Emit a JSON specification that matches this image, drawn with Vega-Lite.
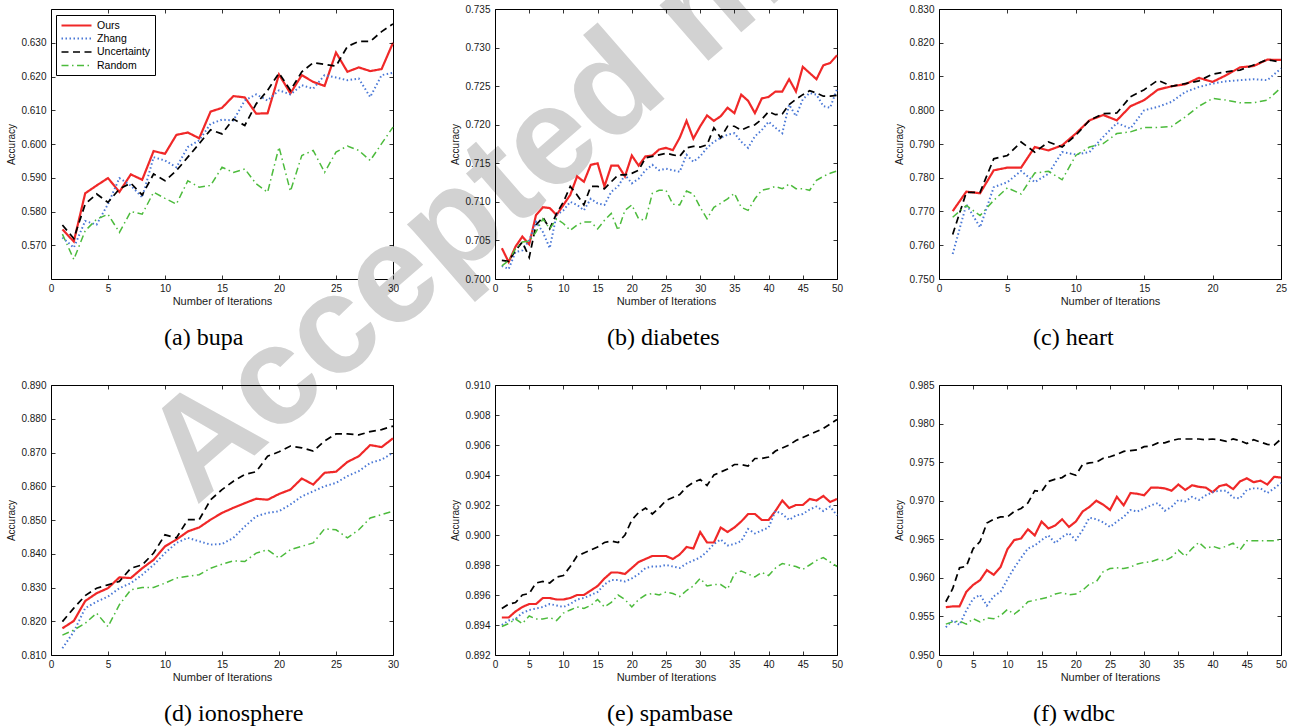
{
"$schema": "https://vega.github.io/schema/vega-lite/v6.json",
"background": "white",
"padding": {"left": 6, "top": -100, "right": 0, "bottom": 0},
"datasets": {
"a": [
{"x":1,"Ours":0.5747,"Zhang":0.5723,"Uncertainty":0.5760,"Random":0.5733},
{"x":2,"Ours":0.5711,"Zhang":0.5693,"Uncertainty":0.5720,"Random":0.5658},
{"x":3,"Ours":0.5854,"Zhang":0.5772,"Uncertainty":0.5822,"Random":0.5743},
{"x":4,"Ours":0.5877,"Zhang":0.5761,"Uncertainty":0.5852,"Random":0.5777},
{"x":5,"Ours":0.5899,"Zhang":0.5822,"Uncertainty":0.5827,"Random":0.5792},
{"x":6,"Ours":0.5858,"Zhang":0.5899,"Uncertainty":0.5867,"Random":0.5738},
{"x":7,"Ours":0.5910,"Zhang":0.5877,"Uncertainty":0.5884,"Random":0.5800},
{"x":8,"Ours":0.5894,"Zhang":0.5842,"Uncertainty":0.5849,"Random":0.5792},
{"x":9,"Ours":0.5979,"Zhang":0.5961,"Uncertainty":0.5911,"Random":0.5857},
{"x":10,"Ours":0.5971,"Zhang":0.5951,"Uncertainty":0.5891,"Random":0.5839},
{"x":11,"Ours":0.6027,"Zhang":0.5931,"Uncertainty":0.5921,"Random":0.5822},
{"x":12,"Ours":0.6034,"Zhang":0.5991,"Uncertainty":0.5961,"Random":0.5891},
{"x":13,"Ours":0.6017,"Zhang":0.6011,"Uncertainty":0.6001,"Random":0.5872},
{"x":14,"Ours":0.6096,"Zhang":0.6060,"Uncertainty":0.6042,"Random":0.5877},
{"x":15,"Ours":0.6107,"Zhang":0.6072,"Uncertainty":0.6030,"Random":0.5931},
{"x":16,"Ours":0.6142,"Zhang":0.6070,"Uncertainty":0.6074,"Random":0.5916},
{"x":17,"Ours":0.6138,"Zhang":0.6129,"Uncertainty":0.6055,"Random":0.5926},
{"x":18,"Ours":0.6090,"Zhang":0.6147,"Uncertainty":0.6119,"Random":0.5882},
{"x":19,"Ours":0.6091,"Zhang":0.6129,"Uncertainty":0.6159,"Random":0.5857},
{"x":20,"Ours":0.6206,"Zhang":0.6159,"Uncertainty":0.6210,"Random":0.5991},
{"x":21,"Ours":0.6150,"Zhang":0.6147,"Uncertainty":0.6159,"Random":0.5860},
{"x":22,"Ours":0.6204,"Zhang":0.6174,"Uncertainty":0.6214,"Random":0.5966},
{"x":23,"Ours":0.6184,"Zhang":0.6164,"Uncertainty":0.6241,"Random":0.5981},
{"x":24,"Ours":0.6172,"Zhang":0.6204,"Uncertainty":0.6236,"Random":0.5916},
{"x":25,"Ours":0.6271,"Zhang":0.6197,"Uncertainty":0.6231,"Random":0.5976},
{"x":26,"Ours":0.6214,"Zhang":0.6189,"Uncertainty":0.6289,"Random":0.5994},
{"x":27,"Ours":0.6227,"Zhang":0.6194,"Uncertainty":0.6304,"Random":0.5981},
{"x":28,"Ours":0.6216,"Zhang":0.6139,"Uncertainty":0.6304,"Random":0.5951},
{"x":29,"Ours":0.6222,"Zhang":0.6204,"Uncertainty":0.6333,"Random":0.6001},
{"x":30,"Ours":0.6300,"Zhang":0.6211,"Uncertainty":0.6356,"Random":0.6050}
],
"b": [
{"x":1,"Ours":0.7040,"Zhang":0.7017,"Uncertainty":0.7024,"Random":0.7017},
{"x":2,"Ours":0.7022,"Zhang":0.7013,"Uncertainty":0.7023,"Random":0.7024},
{"x":3,"Ours":0.7042,"Zhang":0.7035,"Uncertainty":0.7037,"Random":0.7039},
{"x":4,"Ours":0.7055,"Zhang":0.7037,"Uncertainty":0.7048,"Random":0.7048},
{"x":5,"Ours":0.7045,"Zhang":0.7050,"Uncertainty":0.7028,"Random":0.7049},
{"x":6,"Ours":0.7083,"Zhang":0.7074,"Uncertainty":0.7070,"Random":0.7061},
{"x":7,"Ours":0.7093,"Zhang":0.7061,"Uncertainty":0.7080,"Random":0.7078},
{"x":8,"Ours":0.7092,"Zhang":0.7040,"Uncertainty":0.7065,"Random":0.7065},
{"x":9,"Ours":0.7083,"Zhang":0.7083,"Uncertainty":0.7085,"Random":0.7078},
{"x":10,"Ours":0.7096,"Zhang":0.7089,"Uncertainty":0.7100,"Random":0.7072},
{"x":11,"Ours":0.7109,"Zhang":0.7100,"Uncertainty":0.7120,"Random":0.7063},
{"x":12,"Ours":0.7133,"Zhang":0.7096,"Uncertainty":0.7109,"Random":0.7070},
{"x":13,"Ours":0.7126,"Zhang":0.7089,"Uncertainty":0.7096,"Random":0.7074},
{"x":14,"Ours":0.7148,"Zhang":0.7104,"Uncertainty":0.7120,"Random":0.7074},
{"x":15,"Ours":0.7150,"Zhang":0.7098,"Uncertainty":0.7120,"Random":0.7065},
{"x":16,"Ours":0.7120,"Zhang":0.7096,"Uncertainty":0.7117,"Random":0.7076},
{"x":17,"Ours":0.7147,"Zhang":0.7113,"Uncertainty":0.7126,"Random":0.7085},
{"x":18,"Ours":0.7147,"Zhang":0.7120,"Uncertainty":0.7135,"Random":0.7063},
{"x":19,"Ours":0.7133,"Zhang":0.7135,"Uncertainty":0.7135,"Random":0.7089},
{"x":20,"Ours":0.7160,"Zhang":0.7124,"Uncertainty":0.7137,"Random":0.7096},
{"x":21,"Ours":0.7147,"Zhang":0.7130,"Uncertainty":0.7141,"Random":0.7078},
{"x":22,"Ours":0.7159,"Zhang":0.7141,"Uncertainty":0.7157,"Random":0.7076},
{"x":23,"Ours":0.7160,"Zhang":0.7148,"Uncertainty":0.7159,"Random":0.7111},
{"x":24,"Ours":0.7168,"Zhang":0.7141,"Uncertainty":0.7161,"Random":0.7115},
{"x":25,"Ours":0.7170,"Zhang":0.7143,"Uncertainty":0.7163,"Random":0.7115},
{"x":26,"Ours":0.7167,"Zhang":0.7141,"Uncertainty":0.7161,"Random":0.7097},
{"x":27,"Ours":0.7183,"Zhang":0.7139,"Uncertainty":0.7159,"Random":0.7096},
{"x":28,"Ours":0.7205,"Zhang":0.7161,"Uncertainty":0.7170,"Random":0.7114},
{"x":29,"Ours":0.7182,"Zhang":0.7152,"Uncertainty":0.7172,"Random":0.7110},
{"x":30,"Ours":0.7198,"Zhang":0.7159,"Uncertainty":0.7171,"Random":0.7093},
{"x":31,"Ours":0.7212,"Zhang":0.7170,"Uncertainty":0.7174,"Random":0.7078},
{"x":32,"Ours":0.7205,"Zhang":0.7178,"Uncertainty":0.7196,"Random":0.7093},
{"x":33,"Ours":0.7211,"Zhang":0.7183,"Uncertainty":0.7183,"Random":0.7098},
{"x":34,"Ours":0.7222,"Zhang":0.7187,"Uncertainty":0.7198,"Random":0.7104},
{"x":35,"Ours":0.7215,"Zhang":0.7189,"Uncertainty":0.7198,"Random":0.7111},
{"x":36,"Ours":0.7239,"Zhang":0.7178,"Uncertainty":0.7193,"Random":0.7093},
{"x":37,"Ours":0.7231,"Zhang":0.7170,"Uncertainty":0.7197,"Random":0.7089},
{"x":38,"Ours":0.7215,"Zhang":0.7185,"Uncertainty":0.7200,"Random":0.7104},
{"x":39,"Ours":0.7234,"Zhang":0.7193,"Uncertainty":0.7207,"Random":0.7115},
{"x":40,"Ours":0.7236,"Zhang":0.7204,"Uncertainty":0.7217,"Random":0.7117},
{"x":41,"Ours":0.7243,"Zhang":0.7196,"Uncertainty":0.7213,"Random":0.7120},
{"x":42,"Ours":0.7243,"Zhang":0.7189,"Uncertainty":0.7214,"Random":0.7117},
{"x":43,"Ours":0.7259,"Zhang":0.7226,"Uncertainty":0.7226,"Random":0.7123},
{"x":44,"Ours":0.7243,"Zhang":0.7211,"Uncertainty":0.7233,"Random":0.7117},
{"x":45,"Ours":0.7275,"Zhang":0.7233,"Uncertainty":0.7239,"Random":0.7117},
{"x":46,"Ours":0.7267,"Zhang":0.7241,"Uncertainty":0.7244,"Random":0.7115},
{"x":47,"Ours":0.7259,"Zhang":0.7239,"Uncertainty":0.7241,"Random":0.7128},
{"x":48,"Ours":0.7277,"Zhang":0.7224,"Uncertainty":0.7237,"Random":0.7133},
{"x":49,"Ours":0.7280,"Zhang":0.7222,"Uncertainty":0.7237,"Random":0.7137},
{"x":50,"Ours":0.7290,"Zhang":0.7246,"Uncertainty":0.7238,"Random":0.7140}
],
"c": [
{"x":1,"Ours":0.7701,"Zhang":0.7574,"Uncertainty":0.7632,"Random":0.7683},
{"x":2,"Ours":0.7759,"Zhang":0.7721,"Uncertainty":0.7757,"Random":0.7718},
{"x":3,"Ours":0.7754,"Zhang":0.7653,"Uncertainty":0.7757,"Random":0.7688},
{"x":4,"Ours":0.7822,"Zhang":0.7772,"Uncertainty":0.7856,"Random":0.7733},
{"x":5,"Ours":0.7830,"Zhang":0.7787,"Uncertainty":0.7866,"Random":0.7770},
{"x":6,"Ours":0.7830,"Zhang":0.7820,"Uncertainty":0.7906,"Random":0.7752},
{"x":7,"Ours":0.7891,"Zhang":0.7787,"Uncertainty":0.7876,"Random":0.7814},
{"x":8,"Ours":0.7881,"Zhang":0.7812,"Uncertainty":0.7906,"Random":0.7819},
{"x":9,"Ours":0.7896,"Zhang":0.7876,"Uncertainty":0.7891,"Random":0.7794},
{"x":10,"Ours":0.7931,"Zhang":0.7869,"Uncertainty":0.7926,"Random":0.7866},
{"x":11,"Ours":0.7970,"Zhang":0.7876,"Uncertainty":0.7970,"Random":0.7891},
{"x":12,"Ours":0.7986,"Zhang":0.7921,"Uncertainty":0.7990,"Random":0.7901},
{"x":13,"Ours":0.7970,"Zhang":0.7962,"Uncertainty":0.7992,"Random":0.7931},
{"x":14,"Ours":0.8012,"Zhang":0.7946,"Uncertainty":0.8040,"Random":0.7936},
{"x":15,"Ours":0.8030,"Zhang":0.8000,"Uncertainty":0.8061,"Random":0.7949},
{"x":16,"Ours":0.8061,"Zhang":0.8010,"Uncertainty":0.8089,"Random":0.7949},
{"x":17,"Ours":0.8071,"Zhang":0.8025,"Uncertainty":0.8071,"Random":0.7952},
{"x":18,"Ours":0.8077,"Zhang":0.8054,"Uncertainty":0.8079,"Random":0.7980},
{"x":19,"Ours":0.8096,"Zhang":0.8069,"Uncertainty":0.8087,"Random":0.8012},
{"x":20,"Ours":0.8084,"Zhang":0.8079,"Uncertainty":0.8107,"Random":0.8035},
{"x":21,"Ours":0.8104,"Zhang":0.8086,"Uncertainty":0.8114,"Random":0.8030},
{"x":22,"Ours":0.8127,"Zhang":0.8089,"Uncertainty":0.8119,"Random":0.8022},
{"x":23,"Ours":0.8131,"Zhang":0.8092,"Uncertainty":0.8134,"Random":0.8022},
{"x":24,"Ours":0.8150,"Zhang":0.8089,"Uncertainty":0.8150,"Random":0.8030},
{"x":25,"Ours":0.8149,"Zhang":0.8124,"Uncertainty":0.8142,"Random":0.8067}
],
"d": [
{"x":1,"Ours":0.8179,"Zhang":0.8120,"Uncertainty":0.8199,"Random":0.8159},
{"x":2,"Ours":0.8201,"Zhang":0.8169,"Uncertainty":0.8239,"Random":0.8174},
{"x":3,"Ours":0.8260,"Zhang":0.8239,"Uncertainty":0.8276,"Random":0.8194},
{"x":4,"Ours":0.8283,"Zhang":0.8258,"Uncertainty":0.8298,"Random":0.8224},
{"x":5,"Ours":0.8298,"Zhang":0.8273,"Uncertainty":0.8308,"Random":0.8184},
{"x":6,"Ours":0.8330,"Zhang":0.8298,"Uncertainty":0.8318,"Random":0.8249},
{"x":7,"Ours":0.8328,"Zhang":0.8313,"Uncertainty":0.8357,"Random":0.8293},
{"x":8,"Ours":0.8357,"Zhang":0.8338,"Uncertainty":0.8367,"Random":0.8300},
{"x":9,"Ours":0.8382,"Zhang":0.8367,"Uncertainty":0.8402,"Random":0.8300},
{"x":10,"Ours":0.8422,"Zhang":0.8402,"Uncertainty":0.8456,"Random":0.8313},
{"x":11,"Ours":0.8442,"Zhang":0.8432,"Uncertainty":0.8447,"Random":0.8328},
{"x":12,"Ours":0.8466,"Zhang":0.8447,"Uncertainty":0.8501,"Random":0.8333},
{"x":13,"Ours":0.8478,"Zhang":0.8437,"Uncertainty":0.8501,"Random":0.8338},
{"x":14,"Ours":0.8501,"Zhang":0.8427,"Uncertainty":0.8560,"Random":0.8357},
{"x":15,"Ours":0.8521,"Zhang":0.8429,"Uncertainty":0.8590,"Random":0.8369},
{"x":16,"Ours":0.8536,"Zhang":0.8447,"Uncertainty":0.8615,"Random":0.8379},
{"x":17,"Ours":0.8550,"Zhang":0.8481,"Uncertainty":0.8635,"Random":0.8377},
{"x":18,"Ours":0.8563,"Zhang":0.8511,"Uncertainty":0.8643,"Random":0.8402},
{"x":19,"Ours":0.8560,"Zhang":0.8521,"Uncertainty":0.8689,"Random":0.8412},
{"x":20,"Ours":0.8577,"Zhang":0.8526,"Uncertainty":0.8702,"Random":0.8387},
{"x":21,"Ours":0.8590,"Zhang":0.8546,"Uncertainty":0.8719,"Random":0.8412},
{"x":22,"Ours":0.8623,"Zhang":0.8570,"Uncertainty":0.8714,"Random":0.8422},
{"x":23,"Ours":0.8605,"Zhang":0.8585,"Uncertainty":0.8704,"Random":0.8432},
{"x":24,"Ours":0.8640,"Zhang":0.8600,"Uncertainty":0.8734,"Random":0.8474},
{"x":25,"Ours":0.8643,"Zhang":0.8610,"Uncertainty":0.8755,"Random":0.8471},
{"x":26,"Ours":0.8672,"Zhang":0.8630,"Uncertainty":0.8755,"Random":0.8447},
{"x":27,"Ours":0.8689,"Zhang":0.8645,"Uncertainty":0.8752,"Random":0.8471},
{"x":28,"Ours":0.8722,"Zhang":0.8669,"Uncertainty":0.8762,"Random":0.8506},
{"x":29,"Ours":0.8716,"Zhang":0.8679,"Uncertainty":0.8768,"Random":0.8516},
{"x":30,"Ours":0.8742,"Zhang":0.8699,"Uncertainty":0.8778,"Random":0.8526}
],
"e": [
{"x":1,"Ours":0.8945,"Zhang":0.8940,"Uncertainty":0.8951,"Random":0.8939},
{"x":2,"Ours":0.8945,"Zhang":0.8943,"Uncertainty":0.8954,"Random":0.8941},
{"x":3,"Ours":0.8949,"Zhang":0.8944,"Uncertainty":0.8955,"Random":0.8944},
{"x":4,"Ours":0.8952,"Zhang":0.8948,"Uncertainty":0.8960,"Random":0.8941},
{"x":5,"Ours":0.8954,"Zhang":0.8950,"Uncertainty":0.8961,"Random":0.8946},
{"x":6,"Ours":0.8954,"Zhang":0.8951,"Uncertainty":0.8968,"Random":0.8944},
{"x":7,"Ours":0.8958,"Zhang":0.8952,"Uncertainty":0.8969,"Random":0.8944},
{"x":8,"Ours":0.8958,"Zhang":0.8954,"Uncertainty":0.8968,"Random":0.8945},
{"x":9,"Ours":0.8957,"Zhang":0.8953,"Uncertainty":0.8972,"Random":0.8943},
{"x":10,"Ours":0.8957,"Zhang":0.8952,"Uncertainty":0.8973,"Random":0.8948},
{"x":11,"Ours":0.8958,"Zhang":0.8954,"Uncertainty":0.8979,"Random":0.8950},
{"x":12,"Ours":0.8960,"Zhang":0.8957,"Uncertainty":0.8986,"Random":0.8952},
{"x":13,"Ours":0.8960,"Zhang":0.8958,"Uncertainty":0.8988,"Random":0.8951},
{"x":14,"Ours":0.8963,"Zhang":0.8960,"Uncertainty":0.8990,"Random":0.8953},
{"x":15,"Ours":0.8966,"Zhang":0.8962,"Uncertainty":0.8992,"Random":0.8957},
{"x":16,"Ours":0.8971,"Zhang":0.8967,"Uncertainty":0.8995,"Random":0.8952},
{"x":17,"Ours":0.8975,"Zhang":0.8970,"Uncertainty":0.8996,"Random":0.8955},
{"x":18,"Ours":0.8975,"Zhang":0.8970,"Uncertainty":0.8995,"Random":0.8960},
{"x":19,"Ours":0.8974,"Zhang":0.8969,"Uncertainty":0.9000,"Random":0.8957},
{"x":20,"Ours":0.8978,"Zhang":0.8971,"Uncertainty":0.9010,"Random":0.8952},
{"x":21,"Ours":0.8982,"Zhang":0.8974,"Uncertainty":0.9015,"Random":0.8957},
{"x":22,"Ours":0.8984,"Zhang":0.8978,"Uncertainty":0.9018,"Random":0.8960},
{"x":23,"Ours":0.8986,"Zhang":0.8979,"Uncertainty":0.9014,"Random":0.8961},
{"x":24,"Ours":0.8986,"Zhang":0.8979,"Uncertainty":0.9018,"Random":0.8960},
{"x":25,"Ours":0.8986,"Zhang":0.8980,"Uncertainty":0.9023,"Random":0.8962},
{"x":26,"Ours":0.8984,"Zhang":0.8979,"Uncertainty":0.9025,"Random":0.8961},
{"x":27,"Ours":0.8987,"Zhang":0.8978,"Uncertainty":0.9027,"Random":0.8959},
{"x":28,"Ours":0.8992,"Zhang":0.8981,"Uncertainty":0.9032,"Random":0.8963},
{"x":29,"Ours":0.8991,"Zhang":0.8983,"Uncertainty":0.9035,"Random":0.8966},
{"x":30,"Ours":0.9002,"Zhang":0.8985,"Uncertainty":0.9037,"Random":0.8971},
{"x":31,"Ours":0.8995,"Zhang":0.8989,"Uncertainty":0.9033,"Random":0.8966},
{"x":32,"Ours":0.8995,"Zhang":0.8994,"Uncertainty":0.9040,"Random":0.8967},
{"x":33,"Ours":0.9005,"Zhang":0.8997,"Uncertainty":0.9042,"Random":0.8967},
{"x":34,"Ours":0.9002,"Zhang":0.8993,"Uncertainty":0.9044,"Random":0.8964},
{"x":35,"Ours":0.9005,"Zhang":0.8994,"Uncertainty":0.9047,"Random":0.8974},
{"x":36,"Ours":0.9009,"Zhang":0.8996,"Uncertainty":0.9047,"Random":0.8976},
{"x":37,"Ours":0.9014,"Zhang":0.9004,"Uncertainty":0.9046,"Random":0.8974},
{"x":38,"Ours":0.9014,"Zhang":0.9001,"Uncertainty":0.9051,"Random":0.8972},
{"x":39,"Ours":0.9010,"Zhang":0.9003,"Uncertainty":0.9051,"Random":0.8975},
{"x":40,"Ours":0.9010,"Zhang":0.9005,"Uncertainty":0.9052,"Random":0.8973},
{"x":41,"Ours":0.9016,"Zhang":0.9016,"Uncertainty":0.9056,"Random":0.8978},
{"x":42,"Ours":0.9023,"Zhang":0.9014,"Uncertainty":0.9058,"Random":0.8981},
{"x":43,"Ours":0.9018,"Zhang":0.9010,"Uncertainty":0.9060,"Random":0.8980},
{"x":44,"Ours":0.9020,"Zhang":0.9013,"Uncertainty":0.9063,"Random":0.8979},
{"x":45,"Ours":0.9020,"Zhang":0.9014,"Uncertainty":0.9065,"Random":0.8977},
{"x":46,"Ours":0.9024,"Zhang":0.9017,"Uncertainty":0.9067,"Random":0.8980},
{"x":47,"Ours":0.9023,"Zhang":0.9019,"Uncertainty":0.9069,"Random":0.8983},
{"x":48,"Ours":0.9026,"Zhang":0.9016,"Uncertainty":0.9071,"Random":0.8985},
{"x":49,"Ours":0.9022,"Zhang":0.9019,"Uncertainty":0.9074,"Random":0.8982},
{"x":50,"Ours":0.9024,"Zhang":0.9013,"Uncertainty":0.9077,"Random":0.8979}
],
"f": [
{"x":1,"Ours":0.9562,"Zhang":0.9536,"Uncertainty":0.9569,"Random":0.9540},
{"x":2,"Ours":0.9563,"Zhang":0.9545,"Uncertainty":0.9586,"Random":0.9543},
{"x":3,"Ours":0.9563,"Zhang":0.9539,"Uncertainty":0.9613,"Random":0.9544},
{"x":4,"Ours":0.9582,"Zhang":0.9558,"Uncertainty":0.9615,"Random":0.9540},
{"x":5,"Ours":0.9591,"Zhang":0.9573,"Uncertainty":0.9638,"Random":0.9547},
{"x":6,"Ours":0.9597,"Zhang":0.9578,"Uncertainty":0.9647,"Random":0.9543},
{"x":7,"Ours":0.9610,"Zhang":0.9564,"Uncertainty":0.9671,"Random":0.9548},
{"x":8,"Ours":0.9604,"Zhang":0.9576,"Uncertainty":0.9676,"Random":0.9547},
{"x":9,"Ours":0.9614,"Zhang":0.9582,"Uncertainty":0.9679,"Random":0.9551},
{"x":10,"Ours":0.9637,"Zhang":0.9598,"Uncertainty":0.9679,"Random":0.9559},
{"x":11,"Ours":0.9649,"Zhang":0.9613,"Uncertainty":0.9686,"Random":0.9553},
{"x":12,"Ours":0.9651,"Zhang":0.9626,"Uncertainty":0.9690,"Random":0.9560},
{"x":13,"Ours":0.9663,"Zhang":0.9638,"Uncertainty":0.9697,"Random":0.9569},
{"x":14,"Ours":0.9655,"Zhang":0.9642,"Uncertainty":0.9713,"Random":0.9571},
{"x":15,"Ours":0.9673,"Zhang":0.9649,"Uncertainty":0.9712,"Random":0.9573},
{"x":16,"Ours":0.9664,"Zhang":0.9655,"Uncertainty":0.9725,"Random":0.9575},
{"x":17,"Ours":0.9668,"Zhang":0.9645,"Uncertainty":0.9728,"Random":0.9579},
{"x":18,"Ours":0.9676,"Zhang":0.9653,"Uncertainty":0.9730,"Random":0.9581},
{"x":19,"Ours":0.9666,"Zhang":0.9658,"Uncertainty":0.9736,"Random":0.9578},
{"x":20,"Ours":0.9673,"Zhang":0.9649,"Uncertainty":0.9733,"Random":0.9579},
{"x":21,"Ours":0.9686,"Zhang":0.9662,"Uncertainty":0.9747,"Random":0.9584},
{"x":22,"Ours":0.9692,"Zhang":0.9678,"Uncertainty":0.9749,"Random":0.9592},
{"x":23,"Ours":0.9700,"Zhang":0.9676,"Uncertainty":0.9750,"Random":0.9595},
{"x":24,"Ours":0.9695,"Zhang":0.9672,"Uncertainty":0.9755,"Random":0.9608},
{"x":25,"Ours":0.9688,"Zhang":0.9666,"Uncertainty":0.9757,"Random":0.9612},
{"x":26,"Ours":0.9705,"Zhang":0.9673,"Uncertainty":0.9760,"Random":0.9613},
{"x":27,"Ours":0.9694,"Zhang":0.9679,"Uncertainty":0.9764,"Random":0.9612},
{"x":28,"Ours":0.9710,"Zhang":0.9688,"Uncertainty":0.9765,"Random":0.9614},
{"x":29,"Ours":0.9709,"Zhang":0.9686,"Uncertainty":0.9766,"Random":0.9618},
{"x":30,"Ours":0.9707,"Zhang":0.9690,"Uncertainty":0.9770,"Random":0.9620},
{"x":31,"Ours":0.9717,"Zhang":0.9694,"Uncertainty":0.9771,"Random":0.9621},
{"x":32,"Ours":0.9717,"Zhang":0.9697,"Uncertainty":0.9775,"Random":0.9624},
{"x":33,"Ours":0.9716,"Zhang":0.9687,"Uncertainty":0.9775,"Random":0.9622},
{"x":34,"Ours":0.9713,"Zhang":0.9692,"Uncertainty":0.9778,"Random":0.9627},
{"x":35,"Ours":0.9721,"Zhang":0.9701,"Uncertainty":0.9780,"Random":0.9636},
{"x":36,"Ours":0.9714,"Zhang":0.9699,"Uncertainty":0.9780,"Random":0.9628},
{"x":37,"Ours":0.9720,"Zhang":0.9705,"Uncertainty":0.9780,"Random":0.9638},
{"x":38,"Ours":0.9718,"Zhang":0.9701,"Uncertainty":0.9780,"Random":0.9646},
{"x":39,"Ours":0.9717,"Zhang":0.9707,"Uncertainty":0.9779,"Random":0.9638},
{"x":40,"Ours":0.9711,"Zhang":0.9711,"Uncertainty":0.9780,"Random":0.9641},
{"x":41,"Ours":0.9719,"Zhang":0.9713,"Uncertainty":0.9779,"Random":0.9638},
{"x":42,"Ours":0.9721,"Zhang":0.9713,"Uncertainty":0.9777,"Random":0.9641},
{"x":43,"Ours":0.9715,"Zhang":0.9704,"Uncertainty":0.9780,"Random":0.9645},
{"x":44,"Ours":0.9725,"Zhang":0.9703,"Uncertainty":0.9778,"Random":0.9636},
{"x":45,"Ours":0.9729,"Zhang":0.9714,"Uncertainty":0.9774,"Random":0.9648},
{"x":46,"Ours":0.9724,"Zhang":0.9716,"Uncertainty":0.9779,"Random":0.9648},
{"x":47,"Ours":0.9726,"Zhang":0.9716,"Uncertainty":0.9776,"Random":0.9648},
{"x":48,"Ours":0.9721,"Zhang":0.9710,"Uncertainty":0.9773,"Random":0.9648},
{"x":49,"Ours":0.9731,"Zhang":0.9716,"Uncertainty":0.9772,"Random":0.9648},
{"x":50,"Ours":0.9730,"Zhang":0.9723,"Uncertainty":0.9780,"Random":0.9650}
]
},
"columns": 3,
"bounds": "flush",
"spacing": {"row": 106, "column": 102},
"concat": [
{
"width": 342, "height": 270,
"title": {"text": "(a) bupa", "offset": -201, "dx": 113},
"data": {"name": "a"},
"layer": [
{"data": {"values": [{"t": "Accepted m", "wx": 12.72, "wy": 0.4927}]},
 "mark": {"type": "text", "angle": -41, "fontSize": 140, "font": "Liberation Sans", "fontWeight": "bold", "color": "#d2d2d2", "align": "left", "baseline": "alphabetic"},
 "encoding": {
  "x": {"field": "wx", "type": "quantitative", "axis": null, "scale": {"domain": [0, 30], "nice": false}},
  "y": {"field": "wy", "type": "quantitative", "axis": null, "scale": {"domain": [0.56, 0.64], "nice": false, "zero": false}},
  "text": {"field": "t"}}},
{"transform": [{"fold": ["Ours", "Zhang", "Uncertainty", "Random"], "as": ["Method", "Accuracy"]}],
 "mark": {"type": "line"},
 "encoding": {
  "x": {"field": "x", "type": "quantitative", "scale": {"domain": [0, 30], "nice": false}, "axis": {"values": [0, 5, 10, 15, 20, 25, 30], "title": "Number of Iterations", "zindex": 2}},
  "y": {"field": "Accuracy", "type": "quantitative", "scale": {"domain": [0.56, 0.64], "nice": false, "zero": false}, "axis": {"values": [0.57, 0.58, 0.59, 0.6, 0.61, 0.62, 0.63], "format": ".3f", "title": "Accuracy", "zindex": 2}},
  "color": {"field": "Method", "type": "nominal", "scale": {"domain": ["Ours", "Zhang", "Uncertainty", "Random"], "range": ["#f02828", "#4a78d6", "#000000", "#4cbb3c"]}, "legend": {"title": null, "orient": "none", "legendX": 5, "legendY": 6, "symbolType": "M-1,0H5", "symbolSize": 100, "labelOffset": 24, "padding": 4, "rowPadding": 1.5, "strokeColor": "#000", "fillColor": "#fff", "labelFontSize": 10.5, "labelFont": "Liberation Sans", "labelColor": "#000", "symbolStrokeWidth": 1.5}},
  "strokeDash": {"field": "Method", "type": "nominal", "scale": {"domain": ["Ours", "Zhang", "Uncertainty", "Random"], "range": [[1, 0], [1.5, 2.5], [7, 4.5], [7, 3.5, 1.5, 3.5]]}, "legend": {"title": null, "orient": "none", "legendX": 5, "legendY": 6, "symbolType": "M-1,0H5", "symbolSize": 100, "labelOffset": 24, "padding": 4, "rowPadding": 1.5, "strokeColor": "#000", "fillColor": "#fff", "labelFontSize": 10.5, "labelFont": "Liberation Sans", "labelColor": "#000", "symbolStrokeWidth": 1.5}},
  "strokeWidth": {"field": "Method", "type": "nominal", "scale": {"domain": ["Ours", "Zhang", "Uncertainty", "Random"], "range": [2.2, 1.5, 1.8, 1.6]}, "legend": null}}},
{"transform": [{"fold": ["Ours", "Zhang", "Uncertainty", "Random"], "as": ["Method", "Accuracy"]}],
 "mark": {"type": "point", "opacity": 0},
 "encoding": {
  "x": {"field": "x", "type": "quantitative", "axis": {"orient": "top", "labels": false, "title": null, "values": [0, 5, 10, 15, 20, 25, 30], "zindex": 2}},
  "y": {"field": "Accuracy", "type": "quantitative", "axis": {"orient": "right", "labels": false, "title": null, "values": [0.57, 0.58, 0.59, 0.6, 0.61, 0.62, 0.63], "zindex": 2}}}}
],
"resolve": {"axis": {"x": "independent", "y": "independent"}}
},
{
"width": 342, "height": 270,
"title": {"text": "(b) diabetes", "dx": 112},
"data": {"name": "b"},
"layer": [
{"transform": [{"fold": ["Ours", "Zhang", "Uncertainty", "Random"], "as": ["Method", "Accuracy"]}],
 "mark": {"type": "line"},
 "encoding": {
  "x": {"field": "x", "type": "quantitative", "scale": {"domain": [0, 50], "nice": false}, "axis": {"values": [0, 5, 10, 15, 20, 25, 30, 35, 40, 45, 50], "title": "Number of Iterations"}},
  "y": {"field": "Accuracy", "type": "quantitative", "scale": {"domain": [0.7, 0.735], "nice": false, "zero": false}, "axis": {"values": [0.7, 0.705, 0.71, 0.715, 0.72, 0.725, 0.73, 0.735], "format": ".3f", "title": "Accuracy"}},
  "color": {"field": "Method", "type": "nominal", "scale": {"domain": ["Ours", "Zhang", "Uncertainty", "Random"], "range": ["#f02828", "#4a78d6", "#000000", "#4cbb3c"]}, "legend": {"title": null, "orient": "none", "legendX": 5, "legendY": 6, "symbolType": "M-1,0H5", "symbolSize": 100, "labelOffset": 24, "padding": 4, "rowPadding": 1.5, "strokeColor": "#000", "fillColor": "#fff", "labelFontSize": 10.5, "labelFont": "Liberation Sans", "labelColor": "#000", "symbolStrokeWidth": 1.5}},
  "strokeDash": {"field": "Method", "type": "nominal", "scale": {"domain": ["Ours", "Zhang", "Uncertainty", "Random"], "range": [[1, 0], [1.5, 2.5], [7, 4.5], [7, 3.5, 1.5, 3.5]]}, "legend": {"title": null, "orient": "none", "legendX": 5, "legendY": 6, "symbolType": "M-1,0H5", "symbolSize": 100, "labelOffset": 24, "padding": 4, "rowPadding": 1.5, "strokeColor": "#000", "fillColor": "#fff", "labelFontSize": 10.5, "labelFont": "Liberation Sans", "labelColor": "#000", "symbolStrokeWidth": 1.5}},
  "strokeWidth": {"field": "Method", "type": "nominal", "scale": {"domain": ["Ours", "Zhang", "Uncertainty", "Random"], "range": [2.2, 1.5, 1.8, 1.6]}, "legend": null}}},
{"transform": [{"fold": ["Ours", "Zhang", "Uncertainty", "Random"], "as": ["Method", "Accuracy"]}],
 "mark": {"type": "point", "opacity": 0},
 "encoding": {
  "x": {"field": "x", "type": "quantitative", "axis": {"orient": "top", "labels": false, "title": null, "values": [0, 5, 10, 15, 20, 25, 30, 35, 40, 45, 50]}},
  "y": {"field": "Accuracy", "type": "quantitative", "axis": {"orient": "right", "labels": false, "title": null, "values": [0.7, 0.705, 0.71, 0.715, 0.72, 0.725, 0.73, 0.735]}}}}
],
"resolve": {"axis": {"x": "independent", "y": "independent"}}
},
{
"width": 342, "height": 270,
"title": {"text": "(c) heart", "dx": 94},
"data": {"name": "c"},
"layer": [
{"transform": [{"fold": ["Ours", "Zhang", "Uncertainty", "Random"], "as": ["Method", "Accuracy"]}],
 "mark": {"type": "line"},
 "encoding": {
  "x": {"field": "x", "type": "quantitative", "scale": {"domain": [0, 25], "nice": false}, "axis": {"values": [0, 5, 10, 15, 20, 25], "title": "Number of Iterations"}},
  "y": {"field": "Accuracy", "type": "quantitative", "scale": {"domain": [0.75, 0.83], "nice": false, "zero": false}, "axis": {"values": [0.75, 0.76, 0.77, 0.78, 0.79, 0.8, 0.81, 0.82, 0.83], "format": ".3f", "title": "Accuracy"}},
  "color": {"field": "Method", "type": "nominal", "scale": {"domain": ["Ours", "Zhang", "Uncertainty", "Random"], "range": ["#f02828", "#4a78d6", "#000000", "#4cbb3c"]}, "legend": {"title": null, "orient": "none", "legendX": 5, "legendY": 6, "symbolType": "M-1,0H5", "symbolSize": 100, "labelOffset": 24, "padding": 4, "rowPadding": 1.5, "strokeColor": "#000", "fillColor": "#fff", "labelFontSize": 10.5, "labelFont": "Liberation Sans", "labelColor": "#000", "symbolStrokeWidth": 1.5}},
  "strokeDash": {"field": "Method", "type": "nominal", "scale": {"domain": ["Ours", "Zhang", "Uncertainty", "Random"], "range": [[1, 0], [1.5, 2.5], [7, 4.5], [7, 3.5, 1.5, 3.5]]}, "legend": {"title": null, "orient": "none", "legendX": 5, "legendY": 6, "symbolType": "M-1,0H5", "symbolSize": 100, "labelOffset": 24, "padding": 4, "rowPadding": 1.5, "strokeColor": "#000", "fillColor": "#fff", "labelFontSize": 10.5, "labelFont": "Liberation Sans", "labelColor": "#000", "symbolStrokeWidth": 1.5}},
  "strokeWidth": {"field": "Method", "type": "nominal", "scale": {"domain": ["Ours", "Zhang", "Uncertainty", "Random"], "range": [2.2, 1.5, 1.8, 1.6]}, "legend": null}}},
{"transform": [{"fold": ["Ours", "Zhang", "Uncertainty", "Random"], "as": ["Method", "Accuracy"]}],
 "mark": {"type": "point", "opacity": 0},
 "encoding": {
  "x": {"field": "x", "type": "quantitative", "axis": {"orient": "top", "labels": false, "title": null, "values": [0, 5, 10, 15, 20, 25]}},
  "y": {"field": "Accuracy", "type": "quantitative", "axis": {"orient": "right", "labels": false, "title": null, "values": [0.75, 0.76, 0.77, 0.78, 0.79, 0.8, 0.81, 0.82, 0.83]}}}}
],
"resolve": {"axis": {"x": "independent", "y": "independent"}}
},
{
"width": 342, "height": 270,
"title": {"text": "(d) ionosphere", "dx": 113},
"data": {"name": "d"},
"layer": [
{"transform": [{"fold": ["Ours", "Zhang", "Uncertainty", "Random"], "as": ["Method", "Accuracy"]}],
 "mark": {"type": "line"},
 "encoding": {
  "x": {"field": "x", "type": "quantitative", "scale": {"domain": [0, 30], "nice": false}, "axis": {"values": [0, 5, 10, 15, 20, 25, 30], "title": "Number of Iterations"}},
  "y": {"field": "Accuracy", "type": "quantitative", "scale": {"domain": [0.81, 0.89], "nice": false, "zero": false}, "axis": {"values": [0.81, 0.82, 0.83, 0.84, 0.85, 0.86, 0.87, 0.88, 0.89], "format": ".3f", "title": "Accuracy"}},
  "color": {"field": "Method", "type": "nominal", "scale": {"domain": ["Ours", "Zhang", "Uncertainty", "Random"], "range": ["#f02828", "#4a78d6", "#000000", "#4cbb3c"]}, "legend": {"title": null, "orient": "none", "legendX": 5, "legendY": 6, "symbolType": "M-1,0H5", "symbolSize": 100, "labelOffset": 24, "padding": 4, "rowPadding": 1.5, "strokeColor": "#000", "fillColor": "#fff", "labelFontSize": 10.5, "labelFont": "Liberation Sans", "labelColor": "#000", "symbolStrokeWidth": 1.5}},
  "strokeDash": {"field": "Method", "type": "nominal", "scale": {"domain": ["Ours", "Zhang", "Uncertainty", "Random"], "range": [[1, 0], [1.5, 2.5], [7, 4.5], [7, 3.5, 1.5, 3.5]]}, "legend": {"title": null, "orient": "none", "legendX": 5, "legendY": 6, "symbolType": "M-1,0H5", "symbolSize": 100, "labelOffset": 24, "padding": 4, "rowPadding": 1.5, "strokeColor": "#000", "fillColor": "#fff", "labelFontSize": 10.5, "labelFont": "Liberation Sans", "labelColor": "#000", "symbolStrokeWidth": 1.5}},
  "strokeWidth": {"field": "Method", "type": "nominal", "scale": {"domain": ["Ours", "Zhang", "Uncertainty", "Random"], "range": [2.2, 1.5, 1.8, 1.6]}, "legend": null}}},
{"transform": [{"fold": ["Ours", "Zhang", "Uncertainty", "Random"], "as": ["Method", "Accuracy"]}],
 "mark": {"type": "point", "opacity": 0},
 "encoding": {
  "x": {"field": "x", "type": "quantitative", "axis": {"orient": "top", "labels": false, "title": null, "values": [0, 5, 10, 15, 20, 25, 30]}},
  "y": {"field": "Accuracy", "type": "quantitative", "axis": {"orient": "right", "labels": false, "title": null, "values": [0.81, 0.82, 0.83, 0.84, 0.85, 0.86, 0.87, 0.88, 0.89]}}}}
],
"resolve": {"axis": {"x": "independent", "y": "independent"}}
},
{
"width": 342, "height": 270,
"title": {"text": "(e) spambase", "dx": 112},
"data": {"name": "e"},
"layer": [
{"transform": [{"fold": ["Ours", "Zhang", "Uncertainty", "Random"], "as": ["Method", "Accuracy"]}],
 "mark": {"type": "line"},
 "encoding": {
  "x": {"field": "x", "type": "quantitative", "scale": {"domain": [0, 50], "nice": false}, "axis": {"values": [0, 5, 10, 15, 20, 25, 30, 35, 40, 45, 50], "title": "Number of Iterations"}},
  "y": {"field": "Accuracy", "type": "quantitative", "scale": {"domain": [0.892, 0.91], "nice": false, "zero": false}, "axis": {"values": [0.892, 0.894, 0.896, 0.898, 0.9, 0.902, 0.904, 0.906, 0.908, 0.91], "format": ".3f", "title": "Accuracy"}},
  "color": {"field": "Method", "type": "nominal", "scale": {"domain": ["Ours", "Zhang", "Uncertainty", "Random"], "range": ["#f02828", "#4a78d6", "#000000", "#4cbb3c"]}, "legend": {"title": null, "orient": "none", "legendX": 5, "legendY": 6, "symbolType": "M-1,0H5", "symbolSize": 100, "labelOffset": 24, "padding": 4, "rowPadding": 1.5, "strokeColor": "#000", "fillColor": "#fff", "labelFontSize": 10.5, "labelFont": "Liberation Sans", "labelColor": "#000", "symbolStrokeWidth": 1.5}},
  "strokeDash": {"field": "Method", "type": "nominal", "scale": {"domain": ["Ours", "Zhang", "Uncertainty", "Random"], "range": [[1, 0], [1.5, 2.5], [7, 4.5], [7, 3.5, 1.5, 3.5]]}, "legend": {"title": null, "orient": "none", "legendX": 5, "legendY": 6, "symbolType": "M-1,0H5", "symbolSize": 100, "labelOffset": 24, "padding": 4, "rowPadding": 1.5, "strokeColor": "#000", "fillColor": "#fff", "labelFontSize": 10.5, "labelFont": "Liberation Sans", "labelColor": "#000", "symbolStrokeWidth": 1.5}},
  "strokeWidth": {"field": "Method", "type": "nominal", "scale": {"domain": ["Ours", "Zhang", "Uncertainty", "Random"], "range": [2.2, 1.5, 1.8, 1.6]}, "legend": null}}},
{"transform": [{"fold": ["Ours", "Zhang", "Uncertainty", "Random"], "as": ["Method", "Accuracy"]}],
 "mark": {"type": "point", "opacity": 0},
 "encoding": {
  "x": {"field": "x", "type": "quantitative", "axis": {"orient": "top", "labels": false, "title": null, "values": [0, 5, 10, 15, 20, 25, 30, 35, 40, 45, 50]}},
  "y": {"field": "Accuracy", "type": "quantitative", "axis": {"orient": "right", "labels": false, "title": null, "values": [0.892, 0.894, 0.896, 0.898, 0.9, 0.902, 0.904, 0.906, 0.908, 0.91]}}}}
],
"resolve": {"axis": {"x": "independent", "y": "independent"}}
},
{
"width": 342, "height": 270,
"title": {"text": "(f) wdbc", "dx": 94},
"data": {"name": "f"},
"layer": [
{"transform": [{"fold": ["Ours", "Zhang", "Uncertainty", "Random"], "as": ["Method", "Accuracy"]}],
 "mark": {"type": "line"},
 "encoding": {
  "x": {"field": "x", "type": "quantitative", "scale": {"domain": [0, 50], "nice": false}, "axis": {"values": [0, 5, 10, 15, 20, 25, 30, 35, 40, 45, 50], "title": "Number of Iterations"}},
  "y": {"field": "Accuracy", "type": "quantitative", "scale": {"domain": [0.95, 0.985], "nice": false, "zero": false}, "axis": {"values": [0.95, 0.955, 0.96, 0.965, 0.97, 0.975, 0.98, 0.985], "format": ".3f", "title": "Accuracy"}},
  "color": {"field": "Method", "type": "nominal", "scale": {"domain": ["Ours", "Zhang", "Uncertainty", "Random"], "range": ["#f02828", "#4a78d6", "#000000", "#4cbb3c"]}, "legend": {"title": null, "orient": "none", "legendX": 5, "legendY": 6, "symbolType": "M-1,0H5", "symbolSize": 100, "labelOffset": 24, "padding": 4, "rowPadding": 1.5, "strokeColor": "#000", "fillColor": "#fff", "labelFontSize": 10.5, "labelFont": "Liberation Sans", "labelColor": "#000", "symbolStrokeWidth": 1.5}},
  "strokeDash": {"field": "Method", "type": "nominal", "scale": {"domain": ["Ours", "Zhang", "Uncertainty", "Random"], "range": [[1, 0], [1.5, 2.5], [7, 4.5], [7, 3.5, 1.5, 3.5]]}, "legend": {"title": null, "orient": "none", "legendX": 5, "legendY": 6, "symbolType": "M-1,0H5", "symbolSize": 100, "labelOffset": 24, "padding": 4, "rowPadding": 1.5, "strokeColor": "#000", "fillColor": "#fff", "labelFontSize": 10.5, "labelFont": "Liberation Sans", "labelColor": "#000", "symbolStrokeWidth": 1.5}},
  "strokeWidth": {"field": "Method", "type": "nominal", "scale": {"domain": ["Ours", "Zhang", "Uncertainty", "Random"], "range": [2.2, 1.5, 1.8, 1.6]}, "legend": null}}},
{"transform": [{"fold": ["Ours", "Zhang", "Uncertainty", "Random"], "as": ["Method", "Accuracy"]}],
 "mark": {"type": "point", "opacity": 0},
 "encoding": {
  "x": {"field": "x", "type": "quantitative", "axis": {"orient": "top", "labels": false, "title": null, "values": [0, 5, 10, 15, 20, 25, 30, 35, 40, 45, 50]}},
  "y": {"field": "Accuracy", "type": "quantitative", "axis": {"orient": "right", "labels": false, "title": null, "values": [0.95, 0.955, 0.96, 0.965, 0.97, 0.975, 0.98, 0.985]}}}}
],
"resolve": {"axis": {"x": "independent", "y": "independent"}}
}
],
"config": {
 "view": {"stroke": "#000", "strokeWidth": 1},
 "axis": {"domain": false, "grid": false, "ticks": true, "tickColor": "#000", "tickSize": -4, "tickWidth": 0.8, "labelFont": "Liberation Sans", "labelFontSize": 10, "labelColor": "#1a1a1a", "titleFont": "Liberation Sans", "titleFontWeight": "normal", "titleColor": "#1a1a1a", "labelFlush": false, "labelOverlap": false, "zindex": 1},
 "axisX": {"labelPadding": 8, "titlePadding": 2, "titleFontSize": 11},
 "axisY": {"labelPadding": 9, "titlePadding": 4, "titleFontSize": 10},
 "title": {"font": "Liberation Serif", "fontSize": 24, "fontWeight": "normal", "color": "#000", "orient": "bottom", "anchor": "start", "frame": "group", "offset": 20}
}
}
